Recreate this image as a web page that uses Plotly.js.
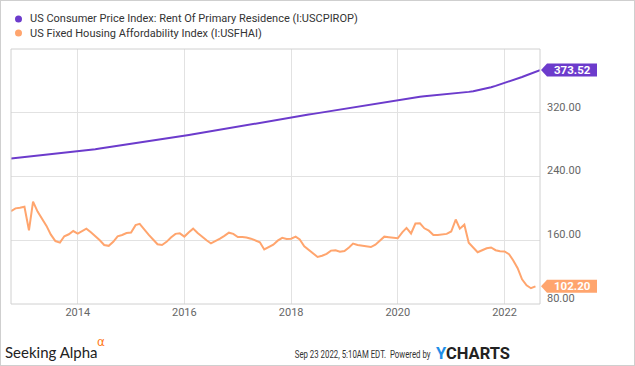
<!DOCTYPE html>
<html>
<head>
<meta charset="utf-8">
<script src="https://cdn.plot.ly/plotly-3.0.1.min.js"></script>
<style>
html,body{margin:0;padding:0;background:#fff;}
#wrap{position:relative;width:635px;height:366px;}
#chart{width:635px;height:366px;}
#frame{position:absolute;left:0;top:0;width:633px;height:364px;border:1px solid #cfcfcf;pointer-events:none;}
</style>
</head>
<body>
<div id="wrap"><div id="chart"></div><div id="frame"></div></div>
<script>
// ---- data ----
const rentName = "US Consumer Price Index: Rent Of Primary Residence (I:USCPIROP)";
const affName = "US Fixed Housing Affordability Index (I:USFHAI)";
const rentStart = "2012-10";   // monthly, Oct 2012 .. Sep 2022
const affStart = "2012-10";    // monthly, Oct 2012 .. Aug 2022
const rentValues = [
  262.5, 263.1, 263.6,
  264.2, 264.8, 265.3, 265.9, 266.5, 267.0, 267.6, 268.2, 268.7, 269.3, 269.9, 270.4,
  271.0, 271.8, 272.6, 273.4, 274.2, 275.0, 275.8, 276.5, 277.3, 278.1, 278.9, 279.7,
  280.5, 281.4, 282.3, 283.1, 284.0, 284.9, 285.8, 286.6, 287.5, 288.4, 289.3, 290.1,
  291.0, 292.0, 292.9, 293.9, 294.8, 295.8, 296.7, 297.7, 298.6, 299.6, 300.5, 301.5,
  302.5, 303.5, 304.4, 305.4, 306.3, 307.3, 308.2, 309.2, 310.2, 311.1, 312.1, 313.0,
  314.0, 314.9, 315.8, 316.8, 317.7, 318.6, 319.5, 320.4, 321.3, 322.3, 323.2, 324.1,
  325.0, 325.9, 326.8, 327.8, 328.7, 329.6, 330.5, 331.4, 332.3, 333.3, 334.2, 335.1,
  336.0, 336.9, 337.8, 338.7, 339.6, 340.1, 340.6, 341.1, 341.6, 342.0, 342.5, 343.0,
  343.5, 344.1, 344.7, 345.4, 346.2, 347.1, 348.2, 349.4, 350.7, 352.1, 353.7, 355.4,
  357.3, 359.1, 361.0, 362.9, 364.9, 367.0, 369.1, 371.3, 373.52
];
const affValues = [
  196.5, 200.0, 200.8,
  202.0, 172.5, 208.4, 196.0, 187.0, 178.0, 167.0, 159.0, 157.0, 165.0, 167.5, 171.6,
  168.4, 171.5, 174.6, 170.0, 165.4, 160.0, 154.0, 153.0, 158.0, 165.0, 166.6, 169.0,
  169.6, 179.0, 180.5, 173.0, 167.0, 161.0, 155.0, 154.0, 158.0, 163.5, 168.0, 168.7,
  164.6, 170.0, 174.6, 169.0, 164.0, 160.0, 156.0, 158.5, 162.0, 165.5, 169.5, 168.0,
  164.0, 164.0, 163.5, 162.0, 160.0, 157.5, 148.5, 151.0, 154.5, 159.5, 163.0, 161.5,
  162.0, 164.5, 161.0, 152.5, 148.0, 143.5, 139.0, 140.5, 143.0, 147.0, 147.5, 145.5,
  146.5, 151.0, 155.8, 154.0, 153.0, 152.0, 151.5, 154.5, 160.0, 164.5, 163.8, 163.0,
  162.5, 170.0, 175.5, 168.5, 181.0, 181.2, 175.0, 172.0, 166.5, 166.5, 167.0, 168.0,
  171.0, 186.0, 174.5, 179.5, 157.0, 150.5, 145.0, 147.5, 150.0, 150.9, 147.5, 146.2,
  146.0, 142.5, 135.0, 125.0, 111.0, 103.5, 99.8, 102.2
];
const yTickVals = [80, 160, 240, 320];
const yTickText = ["80.00", "160.00", "240.00", "320.00"];
const xTickVals = ["2014-01-01", "2016-01-01", "2018-01-01", "2020-01-01", "2022-01-01"];
const xTickText = ["2014", "2016", "2018", "2020", "2022"];

function monthDates(start, n) {
  let [y, m] = start.split("-").map(Number);
  const out = [];
  for (let i = 0; i < n; i++) {
    out.push(y + "-" + String(m).padStart(2, "0") + "-01");
    m++; if (m > 12) { m = 1; y++; }
  }
  return out;
}
const rentDates = monthDates(rentStart, rentValues.length);
const affDates = monthDates(affStart, affValues.length);

// ---- style ----
const purple = "#6c3bcc";
const orange = "#ffa56e";
const W = 635, H = 366, L = 11, R = 95, T = 49, B = 62;
const pw = W - L - R, ph = H - T - B;
const px = v => (v - L) / pw;
const py = v => (H - B - v) / ph;
const yMin = 80, yMax = 400;
const unitPerPx = (yMax - yMin) / ph;

function tag(val, color) {
  const hh = 6.5 * unitPerPx;
  const x0 = px(541), x1 = px(547), x2 = px(597);
  return {
    type: "path", xref: "paper", yref: "y", layer: "above",
    path: `M ${x0},${val} L ${x1},${val + hh} L ${x2},${val + hh} L ${x2},${val - hh} L ${x1},${val - hh} Z`,
    fillcolor: color, line: {width: 0}
  };
}
function tagText(val) {
  return {
    xref: "paper", yref: "y", x: px(572), y: val, xanchor: "center", yanchor: "middle",
    text: "<b>" + val.toFixed(2) + "</b>", showarrow: false,
    font: {family: "Roboto, sans-serif", size: 11.5, color: "#ffffff"}
  };
}
const lastRent = rentValues[rentValues.length - 1];
const lastAff = affValues[affValues.length - 1];

const traces = [
  {x: rentDates, y: rentValues, type: "scatter", mode: "lines", name: rentName,
   line: {color: purple, width: 2}, hoverinfo: "skip"},
  {x: affDates, y: affValues, type: "scatter", mode: "lines", name: affName,
   line: {color: orange, width: 2}, hoverinfo: "skip"}
];

const legFont = {family: "Roboto, sans-serif", size: 11, color: "#333333"};
const stampText = "Sep 23 2022, 5:10AM EDT.  Powered by";
const layout = {
  width: W, height: H,
  margin: {l: L, r: R, t: T, b: B, pad: 0},
  paper_bgcolor: "#ffffff", plot_bgcolor: "#ffffff",
  showlegend: false,
  xaxis: {
    type: "date", range: [rentDates[0], rentDates[rentDates.length - 1]],
    tickvals: xTickVals, ticktext: xTickText,
    showgrid: true, gridcolor: "#e2e2e2", gridwidth: 1,
    showline: false, zeroline: false, ticks: "",
    tickfont: {family: "Roboto, sans-serif", size: 11, color: "#666666"}
  },
  yaxis: {
    range: [yMin, yMax], side: "right",
    tickvals: yTickVals, ticktext: yTickText,
    showgrid: true, gridcolor: "#e2e2e2", gridwidth: 1,
    showline: false, zeroline: false, ticks: "",
    ticklabelstandoff: 6, ticklabelshift: -6,
    tickfont: {family: "Roboto, sans-serif", size: 11, color: "#666666"}
  },
  shapes: [
    {type: "rect", xref: "paper", yref: "paper", x0: 0, x1: 1, y0: 0, y1: 1,
     line: {color: "#d0d0d0", width: 1}, layer: "above"},
    {type: "circle", xref: "paper", yref: "paper",
     x0: px(15), x1: px(22), y0: py(22.5), y1: py(15.5), fillcolor: purple, line: {width: 0}},
    {type: "circle", xref: "paper", yref: "paper",
     x0: px(15), x1: px(22), y0: py(36.5), y1: py(29.5), fillcolor: orange, line: {width: 0}},
    tag(lastRent, purple),
    tag(lastAff, orange)
  ],
  annotations: [
    {xref: "paper", yref: "paper", x: px(3), y: py(352), xanchor: "left", yanchor: "middle",
     text: "Seeking Alpha", showarrow: false,
     font: {family: "Lato, sans-serif", size: 15, color: "#222222"}},
    {xref: "paper", yref: "paper", x: px(28), y: py(19), xanchor: "left", yanchor: "middle",
     text: rentName, showarrow: false, font: legFont},
    {xref: "paper", yref: "paper", x: px(28), y: py(33), xanchor: "left", yanchor: "middle",
     text: affName, showarrow: false, font: legFont},
    tagText(lastRent),
    tagText(lastAff),
    {xref: "paper", yref: "paper", x: px(95), y: py(342), xanchor: "left", yanchor: "middle",
     text: "α", showarrow: false,
     font: {family: "DejaVu Sans, sans-serif", size: 12, color: "#ff7a1a"}},
    {xref: "paper", yref: "paper", x: px(433), y: py(354), xanchor: "right", yanchor: "middle",
     align: "right", text: stampText, showarrow: false,
     font: {family: "Roboto, sans-serif", size: 10, color: "#333333"}},
    {xref: "paper", yref: "paper", x: px(434), y: py(353), xanchor: "left", yanchor: "middle",
     text: "<b><span style=\"color:#1e8fe8\">Y</span>CHARTS</b>", showarrow: false,
     font: {family: "Roboto, sans-serif", size: 16.5, color: "#222222"}}
  ]
};

Plotly.newPlot("chart", traces, layout, {displayModeBar: false, staticPlot: true}).then(gd => {
  // condense the timestamp text horizontally to the reference's narrow width
  gd.querySelectorAll(".annotation-text").forEach(t => {
    if (t.textContent === stampText) {
      const natural = t.getComputedTextLength();
      const bb = t.getBBox();
      const X = bb.x + bb.width;
      const s = 136 / natural;
      t.setAttribute("transform", `translate(${X},0) scale(${s},1) translate(${-X},0)`);
    }
  });
});
</script>
</body>
</html>
